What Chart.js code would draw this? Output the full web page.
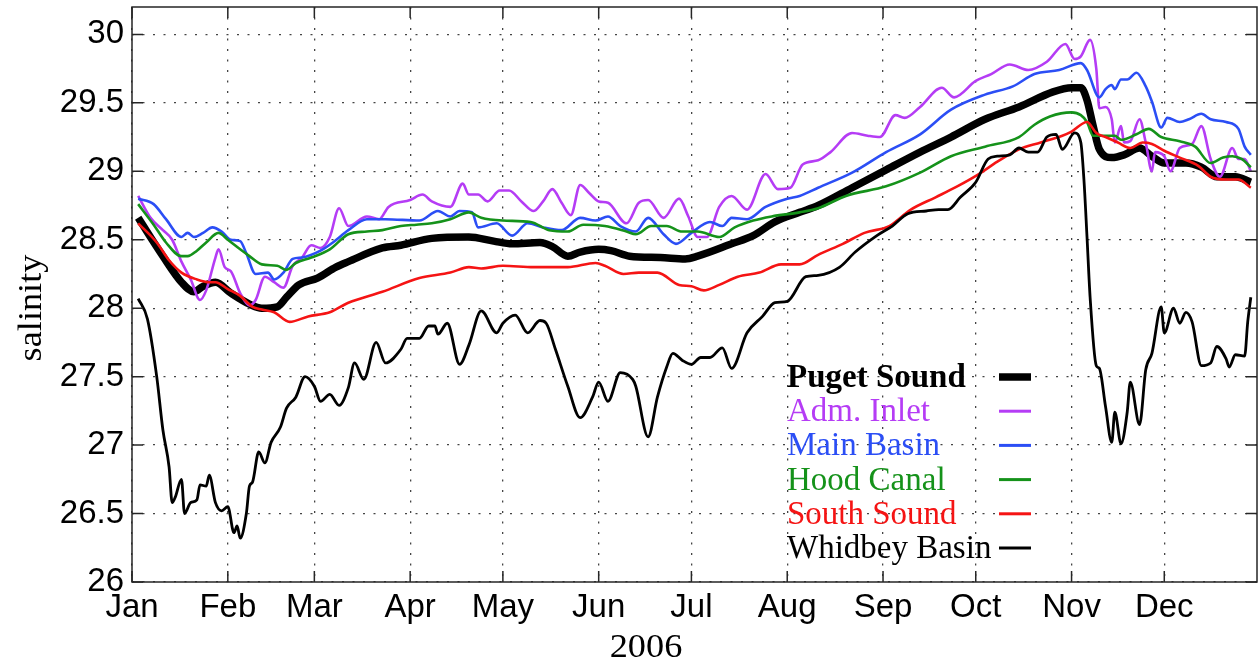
<!DOCTYPE html>
<html>
<head>
    <title>Puget Sound salinity 2006</title>
    <script src="https://cdn.jsdelivr.net/npm/chart.js"></script>
    <style>
        body {
            margin: 0;
            background: #fff;
        }
    </style>
</head>
<body>
    <canvas id="chart" width="1258" height="663"></canvas>
    <script>
        // day of year (Jan 1 = 0) and salinity
        var monthNames = ['Jan', 'Feb', 'Mar', 'Apr', 'May', 'Jun', 'Jul', 'Aug', 'Sep', 'Oct', 'Nov', 'Dec'];
        var monthStarts = [0, 31, 59, 90, 120, 151, 181, 212, 243, 273, 304, 334];
        var yTicks = [26, 26.5, 27, 27.5, 28, 28.5, 29, 29.5, 30];

        var psDays = [2, 10, 16, 20, 23, 27, 32, 38, 42, 47, 50, 54, 60, 66, 70, 81, 87, 97, 109, 117, 123, 132, 136, 141, 145, 151, 155, 161, 171, 179, 183, 194, 201, 208, 216, 222, 233, 244, 255, 265, 276, 287, 298, 304, 307, 309, 311, 313, 317, 321, 326, 330, 334, 341, 346, 351, 357, 362];
        var psSal = [28.66, 28.38, 28.19, 28.12, 28.16, 28.19, 28.11, 28.03, 28.00, 28.01, 28.08, 28.17, 28.22, 28.30, 28.34, 28.44, 28.46, 28.51, 28.52, 28.49, 28.47, 28.48, 28.45, 28.38, 28.41, 28.43, 28.42, 28.38, 28.37, 28.36, 28.38, 28.47, 28.53, 28.63, 28.70, 28.75, 28.88, 29.01, 29.14, 29.25, 29.38, 29.47, 29.58, 29.61, 29.61, 29.52, 29.33, 29.16, 29.10, 29.12, 29.17, 29.11, 29.06, 29.06, 29.03, 28.96, 28.96, 28.92];

        var aiDays = [2, 6, 10, 13, 16, 19, 22, 24, 27, 28, 30, 32, 35, 38, 40, 43, 46, 49, 52, 55, 58, 61, 64, 67, 70, 76, 80, 83, 90, 94, 97, 103, 107, 109, 112, 115, 119, 122, 126, 130, 133, 136, 139, 142, 145, 148, 151, 154, 160, 164, 167, 172, 177, 180, 183, 186, 190, 194, 199, 205, 209, 213, 217, 222, 226, 233, 238, 242, 247, 250, 255, 262, 266, 273, 278, 284, 290, 296, 302, 305, 307, 310, 312, 313, 315, 317, 318, 320, 321, 323, 326, 328, 330, 331, 334, 336, 339, 343, 346, 349, 352, 356, 358, 360, 362];
        var aiSal = [28.82, 28.66, 28.57, 28.50, 28.34, 28.21, 28.06, 28.13, 28.37, 28.43, 28.30, 28.27, 28.11, 28.02, 28.06, 28.23, 28.19, 28.15, 28.31, 28.37, 28.46, 28.44, 28.52, 28.73, 28.60, 28.67, 28.65, 28.74, 28.79, 28.83, 28.78, 28.74, 28.91, 28.83, 28.83, 28.78, 28.86, 28.86, 28.78, 28.71, 28.78, 28.87, 28.77, 28.68, 28.90, 28.84, 28.78, 28.77, 28.62, 28.77, 28.79, 28.66, 28.80, 28.67, 28.52, 28.52, 28.74, 28.82, 28.72, 28.98, 28.87, 28.88, 29.05, 29.08, 29.14, 29.28, 29.26, 29.25, 29.41, 29.39, 29.47, 29.61, 29.54, 29.66, 29.71, 29.78, 29.74, 29.80, 29.93, 29.82, 29.84, 29.96, 29.75, 29.46, 29.47, 29.38, 29.21, 29.33, 29.21, 29.22, 29.38, 29.21, 29.00, 29.14, 29.11, 29.00, 29.17, 29.20, 29.33, 29.09, 28.96, 29.17, 29.09, 29.09, 29.00];

        var mbDays = [2, 7, 11, 16, 18, 20, 23, 26, 29, 32, 35, 37, 40, 44, 46, 49, 52, 55, 61, 65, 70, 76, 82, 93, 99, 103, 106, 110, 112, 118, 123, 128, 133, 139, 145, 150, 154, 158, 163, 167, 172, 176, 181, 187, 191, 194, 199, 205, 212, 216, 222, 233, 244, 255, 265, 276, 285, 292, 300, 307, 309, 313, 315, 317, 318, 320, 322, 325, 328, 330, 333, 335, 339, 342, 346, 349, 354, 358, 360, 362];
        var mbSal = [28.80, 28.76, 28.65, 28.52, 28.55, 28.52, 28.55, 28.59, 28.56, 28.50, 28.49, 28.40, 28.25, 28.26, 28.21, 28.26, 28.36, 28.37, 28.42, 28.48, 28.57, 28.65, 28.65, 28.64, 28.71, 28.67, 28.71, 28.70, 28.59, 28.62, 28.53, 28.62, 28.59, 28.57, 28.66, 28.64, 28.67, 28.60, 28.56, 28.66, 28.54, 28.47, 28.55, 28.63, 28.60, 28.66, 28.65, 28.74, 28.80, 28.82, 28.88, 28.99, 29.14, 29.27, 29.45, 29.56, 29.62, 29.71, 29.74, 29.79, 29.74, 29.54, 29.60, 29.63, 29.60, 29.67, 29.67, 29.72, 29.62, 29.51, 29.32, 29.39, 29.36, 29.38, 29.42, 29.38, 29.36, 29.31, 29.18, 29.12];

        var hcDays = [2, 7, 11, 16, 18, 21, 24, 28, 31, 35, 38, 42, 47, 50, 53, 58, 64, 70, 76, 81, 87, 92, 97, 103, 109, 113, 120, 129, 135, 141, 146, 153, 160, 163, 168, 173, 178, 183, 190, 195, 201, 207, 216, 222, 231, 244, 255, 265, 276, 287, 292, 297, 304, 307, 309, 311, 313, 318, 320, 325, 329, 333, 339, 344, 349, 353, 356, 359, 362];
        var hcSal = [28.76, 28.61, 28.48, 28.38, 28.38, 28.42, 28.48, 28.55, 28.50, 28.43, 28.38, 28.32, 28.31, 28.28, 28.33, 28.37, 28.43, 28.54, 28.56, 28.57, 28.60, 28.61, 28.62, 28.65, 28.70, 28.66, 28.64, 28.63, 28.57, 28.56, 28.61, 28.60, 28.56, 28.54, 28.60, 28.60, 28.56, 28.56, 28.52, 28.59, 28.64, 28.67, 28.70, 28.73, 28.82, 28.89, 28.99, 29.11, 29.18, 29.25, 29.34, 29.40, 29.43, 29.41, 29.36, 29.26, 29.26, 29.26, 29.23, 29.27, 29.31, 29.25, 29.22, 29.18, 29.06, 29.10, 29.11, 29.09, 29.03];

        var ssDays = [2, 8, 12, 16, 21, 25, 27, 31, 35, 39, 42, 46, 51, 57, 64, 70, 81, 93, 103, 109, 113, 120, 130, 141, 150, 153, 159, 164, 170, 177, 181, 185, 190, 196, 203, 210, 216, 222, 230, 237, 245, 252, 260, 267, 274, 280, 287, 294, 301, 304, 309, 312, 315, 319, 323, 327, 330, 334, 339, 345, 349, 354, 358, 362];
        var ssSal = [28.62, 28.48, 28.35, 28.26, 28.21, 28.19, 28.19, 28.14, 28.09, 28.01, 27.99, 27.97, 27.90, 27.94, 27.97, 28.04, 28.12, 28.22, 28.26, 28.30, 28.29, 28.31, 28.30, 28.30, 28.33, 28.31, 28.25, 28.26, 28.26, 28.17, 28.16, 28.13, 28.17, 28.23, 28.26, 28.32, 28.32, 28.39, 28.47, 28.55, 28.60, 28.72, 28.81, 28.89, 28.98, 29.07, 29.16, 29.21, 29.26, 29.29, 29.36, 29.28, 29.25, 29.21, 29.17, 29.21, 29.20, 29.15, 29.10, 29.04, 28.96, 28.94, 28.94, 28.88];

        var wbDays = [2, 5, 8, 10, 12, 13, 14, 16, 17, 19, 21, 22, 24, 25, 27, 29, 31, 33, 34, 35, 37, 38, 39, 41, 43, 45, 48, 50, 53, 56, 59, 61, 64, 67, 70, 72, 75, 79, 82, 87, 89, 93, 96, 98, 99, 102, 106, 109, 113, 118, 120, 124, 128, 132, 134, 137, 141, 145, 149, 151, 154, 158, 162, 163, 167, 170, 173, 175, 178, 181, 184, 187, 191, 194, 199, 204, 208, 212, 218, 222, 229, 234, 241, 246, 251, 257, 261, 264, 268, 273, 277, 280, 284, 287, 290, 293, 296, 299, 301, 305, 307, 308, 309, 310, 312, 313, 315, 317, 318, 320, 322, 323, 326, 328, 330, 333, 334, 337, 339, 341, 343, 346, 349, 351, 354, 355, 357, 360, 361, 362];
        var wbSal = [28.07, 27.92, 27.50, 27.11, 26.84, 26.58, 26.62, 26.75, 26.50, 26.58, 26.60, 26.71, 26.70, 26.78, 26.58, 26.52, 26.55, 26.36, 26.41, 26.32, 26.50, 26.70, 26.73, 26.95, 26.87, 27.02, 27.13, 27.27, 27.35, 27.50, 27.43, 27.32, 27.37, 27.29, 27.42, 27.60, 27.48, 27.75, 27.60, 27.70, 27.78, 27.78, 27.87, 27.87, 27.81, 27.89, 27.59, 27.73, 27.98, 27.82, 27.89, 27.95, 27.82, 27.91, 27.89, 27.70, 27.43, 27.20, 27.35, 27.46, 27.32, 27.53, 27.48, 27.43, 27.06, 27.35, 27.57, 27.67, 27.62, 27.59, 27.64, 27.64, 27.71, 27.56, 27.82, 27.94, 28.04, 28.05, 28.23, 28.24, 28.30, 28.41, 28.53, 28.60, 28.69, 28.71, 28.72, 28.72, 28.81, 28.92, 29.09, 29.11, 29.12, 29.17, 29.14, 29.14, 29.25, 29.27, 29.16, 29.28, 29.21, 28.94, 28.52, 28.08, 27.58, 27.56, 27.28, 27.02, 27.24, 27.01, 27.24, 27.46, 27.15, 27.55, 27.67, 28.01, 27.82, 28.00, 27.89, 27.97, 27.90, 27.58, 27.60, 27.72, 27.63, 27.57, 27.66, 27.65, 27.90, 28.08];

        function series(label, days, sal, color, width, order) {
            return {
                label: label,
                data: days.map(function (d, i) { return { x: d, y: sal[i] }; }),
                borderColor: color,
                backgroundColor: color,
                borderWidth: width,
                pointRadius: 0,
                cubicInterpolationMode: 'monotone',
                order: order
            };
        }

        // frame with inward ticks, legend and axis titles, drawn like the original figure
        var decorations = {
            id: 'decorations',
            afterDraw: function (chart) {
                var ctx = chart.ctx, a = chart.chartArea;
                var xs = chart.scales.x, ys = chart.scales.y;
                ctx.save();
                ctx.strokeStyle = '#262626';
                ctx.lineWidth = 1.5;
                ctx.strokeRect(a.left, a.top, a.right - a.left, a.bottom - a.top);
                ctx.beginPath();
                yTicks.forEach(function (v) {
                    var p = ys.getPixelForValue(v);
                    ctx.moveTo(a.left, p); ctx.lineTo(a.left + 11, p);
                    ctx.moveTo(a.right, p); ctx.lineTo(a.right - 11, p);
                });
                monthStarts.forEach(function (d) {
                    var p = xs.getPixelForValue(d);
                    ctx.moveTo(p, a.bottom); ctx.lineTo(p, a.bottom - 11);
                    ctx.moveTo(p, a.top); ctx.lineTo(p, a.top + 11);
                });
                ctx.stroke();

                // legend
                var base = 387, step = 34.2;
                chart.data.datasets.forEach(function (ds, i) {
                    var yb = base + i * step;
                    ctx.font = (i === 0 ? 'bold ' : '') + '33px "Liberation Serif"';
                    ctx.fillStyle = ds.borderColor;
                    ctx.textAlign = 'left';
                    ctx.textBaseline = 'alphabetic';
                    ctx.fillText(ds.label, 787, yb);
                    ctx.strokeStyle = ds.borderColor;
                    ctx.lineWidth = i === 0 ? 7.5 : 3;
                    ctx.beginPath();
                    ctx.moveTo(999, yb - 10);
                    ctx.lineTo(1031, yb - 10);
                    ctx.stroke();
                });

                // axis titles (slightly wide type, as in the original)
                ctx.fillStyle = '#000';
                ctx.font = '33px "Liberation Serif"';
                ctx.textAlign = 'center';
                ctx.save();
                ctx.translate(646, 657);
                ctx.scale(1.1, 1);
                ctx.fillText('2006', 0, 0);
                ctx.restore();
                ctx.translate(41, 308);
                ctx.rotate(-Math.PI / 2);
                ctx.scale(1.1, 1);
                ctx.fillText('salinity', 0, 0);
                ctx.restore();
            }
        };

        function noPad(s) {
            s.paddingTop = 0; s.paddingBottom = 0;
            s.paddingLeft = 0; s.paddingRight = 0;
        }

        var ctx = document.getElementById('chart').getContext('2d');
        var chart = new Chart(ctx, {
            type: 'line',
            data: {
                datasets: [
                    series('Puget Sound', psDays, psSal, '#000000', 7.5, 6),
                    series('Adm. Inlet', aiDays, aiSal, '#b53cf5', 2.6, 5),
                    series('Main Basin', mbDays, mbSal, '#2b4ef5', 2.6, 4),
                    series('Hood Canal', hcDays, hcSal, '#15921a', 2.6, 3),
                    series('South Sound', ssDays, ssSal, '#f51414', 2.6, 2),
                    series('Whidbey Basin', wbDays, wbSal, '#000000', 2.8, 1)
                ]
            },
            options: {
                responsive: false,
                animation: false,
                layout: { padding: { top: 7, right: 1, left: 0, bottom: 0 } },
                plugins: {
                    legend: { display: false },
                    tooltip: { enabled: false }
                },
                scales: {
                    x: {
                        type: 'linear',
                        min: 0,
                        max: 364,
                        afterBuildTicks: function (s) {
                            s.ticks = monthStarts.map(function (v) { return { value: v }; });
                        },
                        afterFit: function (s) { s.height = 81; noPad(s); },
                        grid: { color: '#444', lineWidth: 1.3, drawTicks: false },
                        border: { display: false, dash: [2, 8.5] },
                        ticks: {
                            autoSkip: false,
                            maxRotation: 0,
                            padding: 6,
                            color: '#000',
                            font: { family: '"Liberation Sans"', size: 33 },
                            callback: function (v, i) { return monthNames[i]; }
                        }
                    },
                    y: {
                        min: 26,
                        max: 30.2,
                        afterBuildTicks: function (s) {
                            s.ticks = yTicks.map(function (v) { return { value: v }; });
                        },
                        afterFit: function (s) { s.width = 132; noPad(s); },
                        grid: { color: '#444', lineWidth: 1.3, drawTicks: false },
                        border: { display: false, dash: [2, 8.5] },
                        ticks: {
                            padding: 8,
                            color: '#000',
                            font: { family: '"Liberation Sans"', size: 33 },
                            callback: function (v) { return String(v); }
                        }
                    }
                }
            },
            plugins: [decorations]
        });
    </script>
</body>
</html>
